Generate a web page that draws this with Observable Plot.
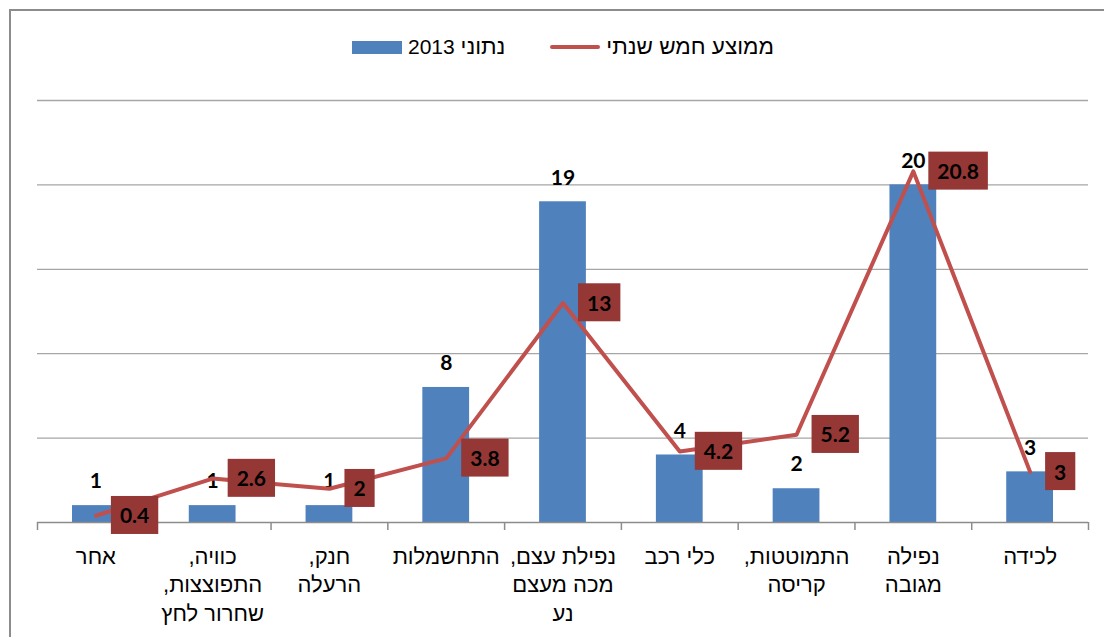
<!DOCTYPE html>
<html>
<head>
<meta charset="utf-8">
<script src="https://cdn.jsdelivr.net/npm/d3@7"></script>
<script src="https://cdn.jsdelivr.net/npm/@observablehq/plot@0.6"></script>
<style>
  html, body { margin: 0; padding: 0; background: #fff; }
  #wrap { position: relative; width: 1104px; height: 637px; overflow: hidden; font-family: "Liberation Sans", Arial, "DejaVu Sans", sans-serif; }
  #frame { position: absolute; left: 9px; top: 9px; right: -10px; bottom: -10px; border-left: 2px solid #8c8c8c; border-top: 2px solid #8c8c8c; pointer-events: none; }
  #legend { position: absolute; top: 33px; left: 352px; height: 28px; display: flex; align-items: center; font-size: 21px; color: #000; white-space: nowrap; }
  #legend .sw-bar { width: 50px; height: 13px; background: #4f81bd; margin-right: 6px; }
  #legend .sw-line { width: 50px; height: 4px; border-radius: 2px; background: #c0504d; margin-right: 6px; }
  #legend .gap { width: 45px; }
  #legend .heb { font-size: 22.5px; }
  #chart { position: absolute; top: 80px; left: 0; }
</style>
</head>
<body>
<div id="wrap">
  <div id="legend"></div>
  <div id="chart"></div>
  <div id="frame"></div>
</div>
<script>
// ---- data ----
const categories = ["אחר", "כוויה, התפוצצות, שחרור לחץ", "חנק, הרעלה", "התחשמלות", "נפילת עצם, מכה מעצם נע", "כלי רכב", "התמוטטות, קריסה", "נפילה מגובה", "לכידה"];
const tickLabels = ["אחר", "כוויה,\nהתפוצצות,\nשחרור לחץ", "חנק,\nהרעלה", "התחשמלות", "נפילת עצם,\nמכה מעצם\nנע", "כלי רכב", "התמוטטות,\nקריסה", "נפילה\nמגובה", "לכידה"];
const values2013 = [1, 1, 1, 8, 19, 4, 2, 20, 3];
const fiveYearAvg = [0.4, 2.6, 2, 3.8, 13, 4.2, 5.2, 20.8, 3];
const seriesNames = ["נתוני", "2013", "ממוצע חמש שנתי"];
const gridValues = [5, 10, 15, 20, 25];

const data = categories.map((c, i) => ({i, cat: c, label: tickLabels[i], bar: values2013[i], avg: fiveYearAvg[i]}));
const boundaries = d3.range(categories.length + 1).map(k => k - 0.5);

// ---- legend ----
const legend = document.getElementById("legend");
legend.innerHTML =
  `<div class="sw-bar"></div><span dir="rtl"><span class="heb">${seriesNames[0]}</span> ${seriesNames[1]}</span><div class="gap"></div>` +
  `<div class="sw-line"></div><span dir="rtl" class="heb">${seriesNames[2]}</span>`;

// ---- chart ----
const numFont = "Lato, 'Liberation Sans', sans-serif";
const chart = Plot.plot({
  width: 1104,
  height: 557,
  marginTop: 20,
  marginBottom: 115,
  marginLeft: 37,
  marginRight: 16,
  style: {fontFamily: "'Liberation Sans', Arial, 'DejaVu Sans', sans-serif", background: "transparent", overflow: "visible"},
  x: {type: "linear", domain: [-0.5, categories.length - 0.5], axis: null},
  y: {domain: [0, 25], axis: null},
  marks: [
    Plot.ruleY(gridValues, {stroke: "#a6a6a6", strokeWidth: 1.3}),
    Plot.rectY(data, {x1: d => d.i - 0.5, x2: d => d.i + 0.5, y: "bar", fill: "#4f81bd", insetLeft: 35, insetRight: 35}),
    Plot.ruleY([0], {stroke: "#8c8c8c", strokeWidth: 1.5}),
    Plot.ruleX(boundaries, {x: d => d, y1: 0, y2: 0, insetBottom: -8, stroke: "#8c8c8c", strokeWidth: 1.5}),
    Plot.text(data, {x: "i", y: "bar", text: d => String(d.bar), dy: -24, fontSize: 21, fontWeight: "bold", fontFamily: numFont, fill: "#000", ariaDescription: "bar-label"}),
    Plot.line(data, {x: "i", y: "avg", stroke: "#c0504d", strokeWidth: 4}),
    Plot.text(data, {x: "i", y: "avg", text: d => String(d.avg), textAnchor: "start", dx: 24, dy: 1, fontSize: 21, fontWeight: "bold", fontFamily: numFont, fill: "#000", ariaDescription: "avg-label"}),
    Plot.text(data, {x: "i", y: 0, text: "label", dy: 21, lineAnchor: "top", lineHeight: 1.3, fontSize: 22, fill: "#000", ariaDescription: "cat-label"})
  ]
});
document.getElementById("chart").appendChild(chart);

const ns = "http://www.w3.org/2000/svg";
const groups = chart.querySelectorAll('g[aria-label="text"]');
const avgGroup = chart.querySelector('g[aria-description="avg-label"]') || groups[1];
const catGroup = chart.querySelector('g[aria-description="cat-label"]') || groups[2];

// boxes behind the five-year-average labels
avgGroup.querySelectorAll("text").forEach(t => {
  const b = t.getBBox();
  const r = document.createElementNS(ns, "rect");
  const h = 38;
  r.setAttribute("x", b.x - 9);
  r.setAttribute("width", b.width + 18);
  r.setAttribute("y", b.y + b.height / 2 - h / 2);
  r.setAttribute("height", h);
  r.setAttribute("fill", "#953735");
  if (t.getAttribute("transform")) r.setAttribute("transform", t.getAttribute("transform"));
  t.parentNode.insertBefore(r, t);
});
// right-to-left category labels
catGroup.querySelectorAll("text").forEach(t => {
  t.setAttribute("direction", "rtl");
  t.style.direction = "rtl";
  t.style.unicodeBidi = "embed";
});
</script>
</body>
</html>
